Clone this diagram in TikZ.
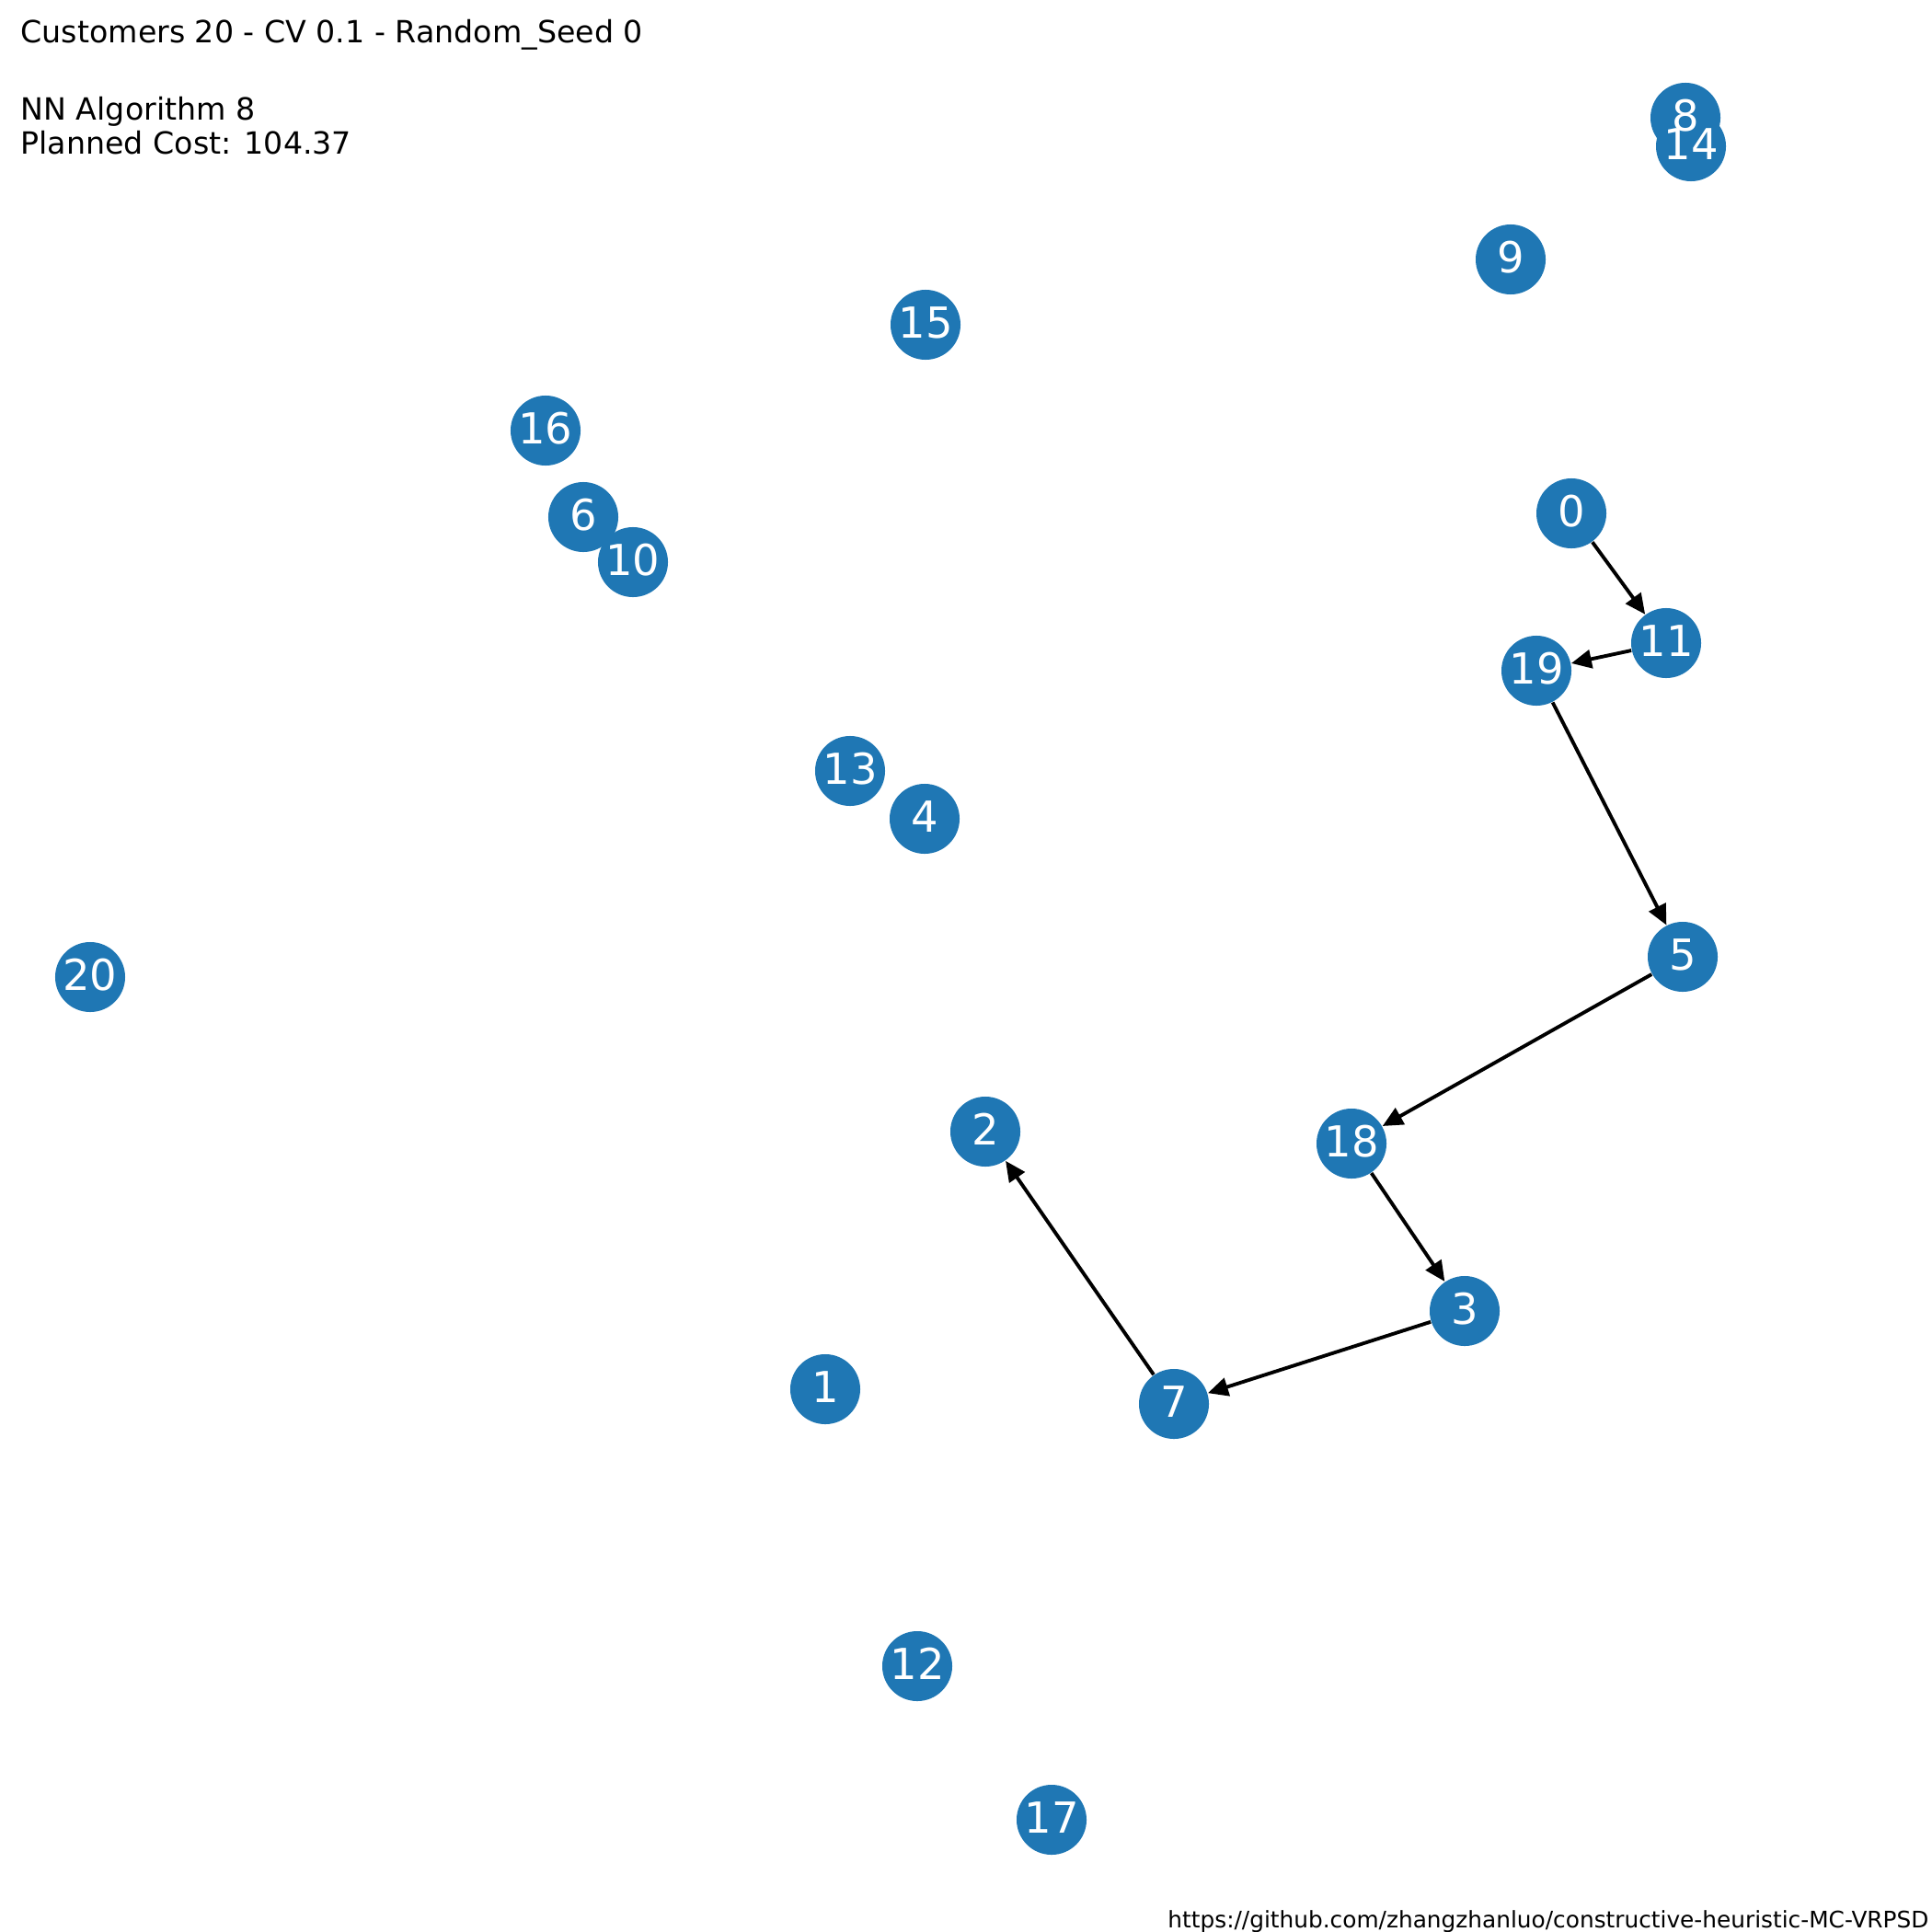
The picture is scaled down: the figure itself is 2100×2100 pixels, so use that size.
\documentclass[tikz,border=0pt]{standalone}
\usepackage{fontspec}
\setmainfont{DejaVu Sans}
\usetikzlibrary{arrows.meta}
\definecolor{nodeblue}{RGB}{31,119,180}
\tikzset{>={Triangle[length=0.22cm,width=0.2cm]}}

\begin{document}
\begin{tikzpicture}[x=0.01cm, y=-0.01cm]
\tikzset{customer/.style={circle, fill=nodeblue, minimum size=0.76cm, inner sep=0pt}}
\tikzset{idlabel/.style={text=white, font=\fontsize{13.2}{15}\selectfont, inner sep=0pt, yshift=0.025cm}}
\tikzset{route/.style={->, line width=1.1pt}}
\tikzset{info/.style={anchor=base west, inner sep=0pt, font=\fontsize{9.45}{11}\selectfont}}
    \useasboundingbox (0,0) rectangle (2100,2100);

    % customers (depot is 0)
    \foreach \n/\x/\y in {0/1708/558, 1/897/1510, 2/1071/1230, 3/1592/1425,
        4/1005/890, 5/1829/1040, 6/634/562, 7/1276/1526, 8/1832/128,
        9/1642/282, 10/688/611, 11/1811/699, 12/997/1811, 13/924/838,
        14/1838/159, 15/1006/353, 16/593/468, 17/1143/1978, 18/1469/1243,
        19/1670/729, 20/98/1062}
    {
        \node[customer] (c\n) at (\x,\y) {};
    }
    \foreach \n in {0,...,20}
        \node[idlabel] (l\n) at (c\n) {\n};

    % planned route
    \draw[route] (c0) -- (c11);
    \draw[route] (c11) -- (c19);
    \draw[route] (c19) -- (c5);
    \draw[route] (c5) -- (c18);
    \draw[route] (c18) -- (c3);
    \draw[route] (c3) -- (c7);
    \draw[route] (c7) -- (c2);
% % % % % % % % % % % % % % % % % % %
    \node[info] (title) at (22,47) {Customers 20 - CV 0.1 - Random\_Seed 0};
    \node[info] (algo) at (22,130) {NN Algorithm 8};
    \node[info] (cost) at (22,168) {Planned Cost: 104.37};
    \node[anchor=base east, inner sep=0pt, font=\fontsize{7.05}{8}\selectfont] (url) at (2097,2095)
        {https://github.com/zhangzhanluo/constructive-heuristic-MC-VRPSD};
\end{tikzpicture}
\end{document}
